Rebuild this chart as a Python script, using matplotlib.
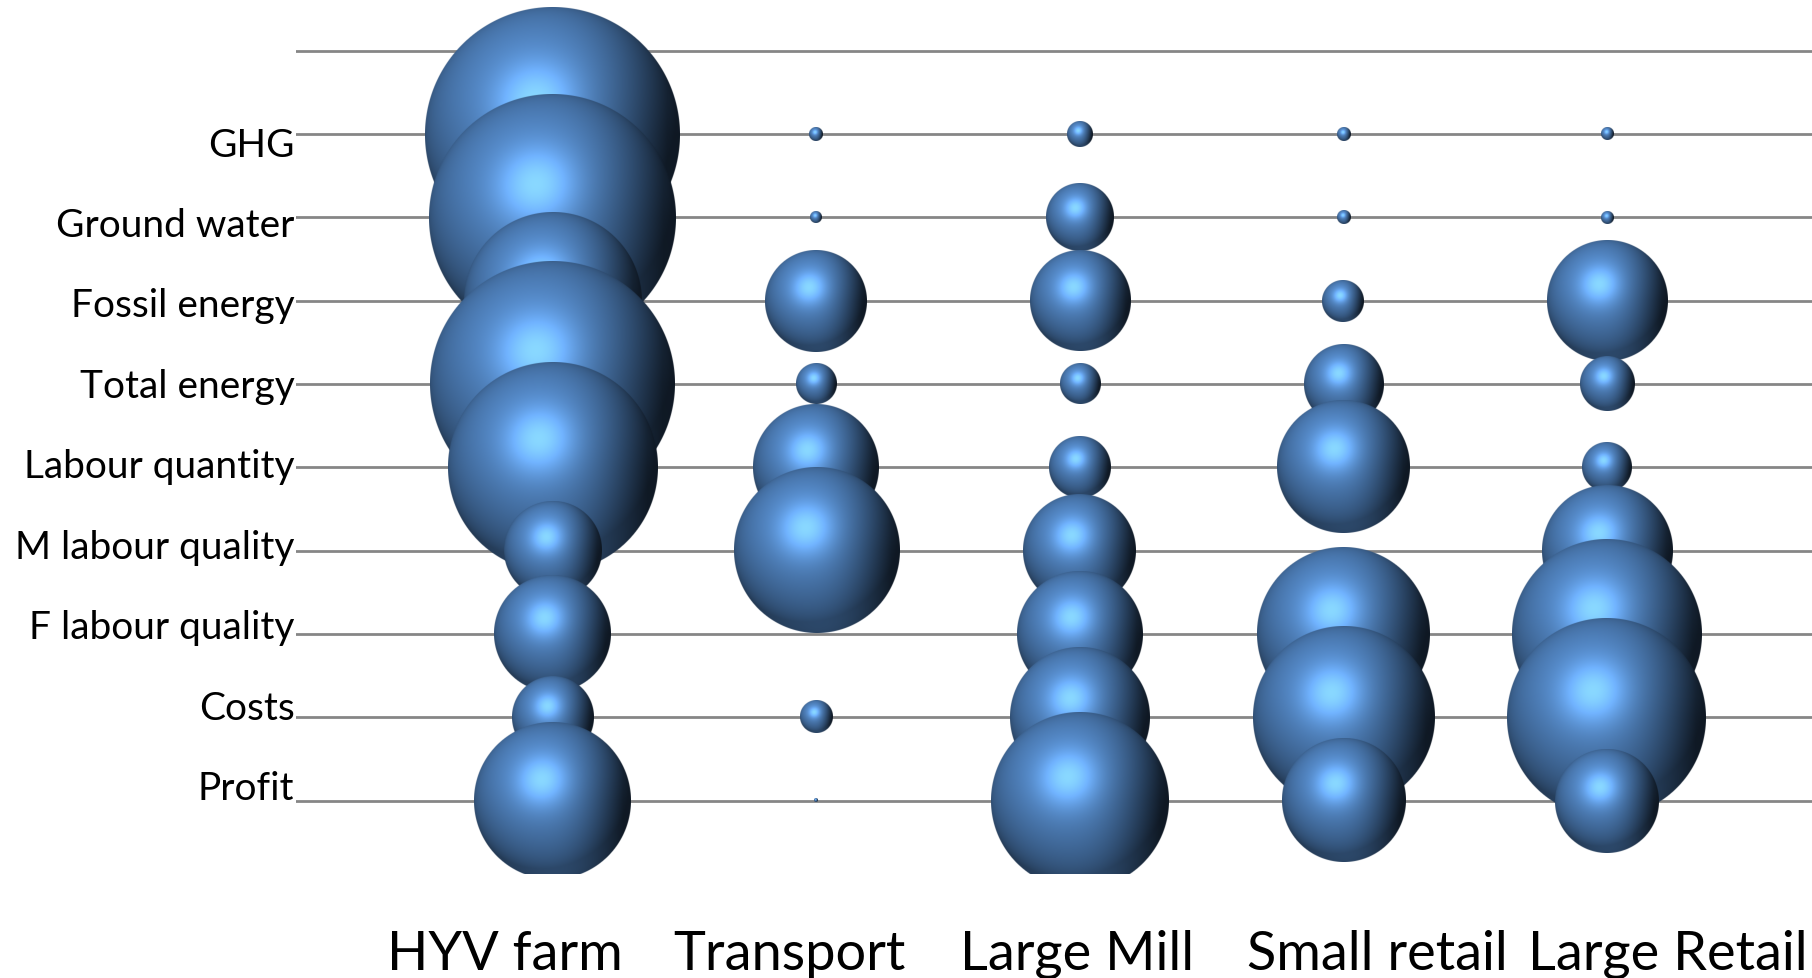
import numpy as np
import matplotlib
matplotlib.use("Agg")
import matplotlib.pyplot as plt

plt.rcParams['font.family'] = ['Lato', 'DejaVu Sans']

# ---------- data ----------
indicators = ["GHG", "Ground water", "Fossil energy", "Total energy",
              "Labour quantity", "M labour quality", "F labour quality",
              "Costs", "Profit"]
stages = ["HYV farm", "Transport", "Large Mill", "Small retail", "Large Retail"]

# one value per indicator for every stage; bubble area is proportional to it
hyv_farm = [100.0, 93.8, 48.7, 92.3, 67.2, 14.5, 20.7, 10.1, 37.9]
transport = [0.30, 0.22, 16.0, 2.5, 24.4, 41.9, 0.0, 1.6, 0.02]
large_mill = [1.0, 7.1, 15.4, 2.5, 5.9, 19.6, 24.4, 30.1, 48.2]
small_retail = [0.28, 0.26, 2.7, 9.6, 26.8, 0.0, 45.5, 50.4, 23.3]
large_retail = [0.25, 0.25, 22.4, 4.5, 3.7, 26.0, 55.5, 60.9, 16.6]

stage_values = [hyv_farm, transport, large_mill, small_retail, large_retail]

# ---------- layout ----------
W, H, DPI = 1812, 979, 100
BIGGEST = 255.0            # diameter in pixels of the largest bubble
x_pos = np.arange(1, len(stages) + 1)
y_pos = np.arange(len(indicators), 0, -1)
ylabel_base = np.linspace(8.74, 1.02, len(indicators))   # text baselines
xlabel_x = [0.82, 1.90, 2.99, 4.13, 5.23]


def sphere(n, base=(0.31, 0.506, 0.741)):
    """RGBA image of a shaded ball, n x n pixels."""
    t = (np.arange(n) + 0.5) / n * 2 - 1
    u, v = np.meshgrid(t, -t)
    r2 = u ** 2 + v ** 2
    r = np.sqrt(r2)
    z = np.sqrt(np.clip(1 - r2, 0, 1))
    light = np.array([-0.25, 0.5, 0.83]); light /= np.linalg.norm(light)
    half = light + np.array([0, 0, 1.0]); half /= np.linalg.norm(half)
    below = np.array([0.1, -0.85, 0.5]); below /= np.linalg.norm(below)
    d1 = np.clip(u * light[0] + v * light[1] + z * light[2], 0, 1)
    d2 = np.clip(u * below[0] + v * below[1] + z * below[2], 0, 1)
    sp = np.clip(u * half[0] + v * half[1] + z * half[2], 0, 1)
    shade = 0.42 + 0.58 * d1 + 0.14 * d2 ** 3
    # right-hand side falls off into deep shadow
    shade *= 1 - 0.55 * np.clip(u + 0.1, 0, 1) ** 2.5 * (1 - 0.3 * np.clip(v, 0, 1))
    rgb = np.array(base)[None, None, :] * shade[..., None]
    glow = 0.35 * sp ** 22 + 0.12 * sp ** 6
    rgb += glow[..., None] * np.array([0.5, 0.75, 1.0])[None, None, :]
    rgb = np.clip(rgb, 0, 1)
    alpha = np.clip((1 - r) * n / 2 + 0.5, 0, 1)
    return np.dstack([rgb, alpha])


fig = plt.figure(figsize=(W / DPI, H / DPI), dpi=DPI)
ax = fig.add_axes([296 / W, 104 / H, 1516 / W, 875 / H])
ax.set_xlim(0.027, 5.778)
ax.set_ylim(0.12, 10.62)

ax.set_yticks(list(y_pos) + [10])
ax.set_yticklabels([])
ax.set_xticks([])
ax.tick_params(length=0)
ax.grid(axis='y', color='#868686', linewidth=2.0, zorder=0)
ax.set_axisbelow(True)
for s in ax.spines.values():
    s.set_visible(False)

# pixels per data unit, to keep the bubbles round
ppx = ax.bbox.width / (ax.get_xlim()[1] - ax.get_xlim()[0])
ppy = ax.bbox.height / (ax.get_ylim()[1] - ax.get_ylim()[0])
vmax = max(max(v) for v in stage_values)

for j, vals in enumerate(stage_values):
    for i, val in enumerate(vals):
        if val <= 0:
            continue
        d = BIGGEST * np.sqrt(val / vmax)
        n = max(int(d * 2) + 2, 4)
        rx = d / 2 / ppx
        ry = d / 2 / ppy
        cx, cy = x_pos[j], y_pos[i]
        ax.imshow(sphere(n), extent=[cx - rx, cx + rx, cy - ry, cy + ry],
                  interpolation='antialiased', zorder=3 + i, aspect='auto')

ax.set_xlim(0.027, 5.778)
ax.set_ylim(0.12, 10.62)

for name, yb in zip(indicators, ylabel_base):
    ax.text(-0.001, yb, name, ha='right', va='baseline', fontsize=28,
            transform=ax.get_yaxis_transform(), clip_on=False)
for name, xl in zip(stages, xlabel_x):
    ax.text(xl, -1.02, name, ha='center', va='baseline', fontsize=39,
            clip_on=False)

fig.savefig("out.png", dpi=DPI, facecolor='white')
